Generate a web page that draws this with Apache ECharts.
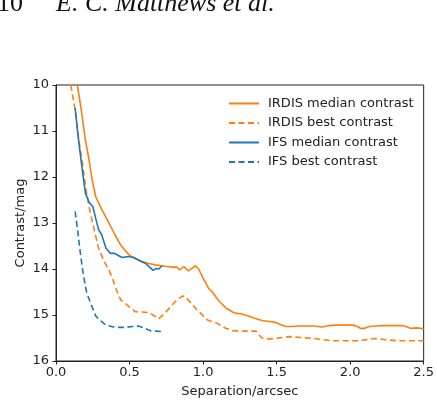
<!DOCTYPE html>
<html>
<head>
<meta charset="utf-8">
<script src="https://cdn.jsdelivr.net/npm/echarts@6/dist/echarts.min.js"></script>
<style>
    html, body { margin: 0; padding: 0; background: #fff; }
    #main { width: 437px; height: 404px; }
</style>
</head>
<body>
<div id="main"></div>
<script>
// separation (arcsec) / contrast (mag)
var irdisMedianSep = [0.145, 0.17, 0.20, 0.225, 0.245, 0.27, 0.31, 0.36, 0.40, 0.44, 0.47, 0.50, 0.54, 0.585, 0.63, 0.675, 0.74, 0.79, 0.82, 0.84, 0.87, 0.90, 0.95, 0.97, 1.00, 1.04, 1.06, 1.09, 1.11, 1.16, 1.21, 1.26, 1.30, 1.34, 1.40, 1.45, 1.49, 1.53, 1.56, 1.60, 1.65, 1.70, 1.75, 1.81, 1.86, 1.90, 1.96, 2.02, 2.05, 2.07, 2.10, 2.13, 2.18, 2.23, 2.29, 2.35, 2.38, 2.41, 2.45, 2.50];
var irdisMedianMag = [10.0, 10.5, 11.2, 11.63, 12.05, 12.43, 12.7, 13.0, 13.25, 13.48, 13.6, 13.70, 13.78, 13.84, 13.88, 13.91, 13.94, 13.96, 13.96, 14.02, 13.95, 14.04, 13.93, 14.0, 14.2, 14.43, 14.49, 14.62, 14.7, 14.86, 14.95, 14.98, 15.01, 15.06, 15.12, 15.14, 15.16, 15.21, 15.25, 15.25, 15.24, 15.24, 15.24, 15.26, 15.23, 15.22, 15.22, 15.22, 15.25, 15.29, 15.29, 15.25, 15.24, 15.23, 15.23, 15.23, 15.25, 15.29, 15.28, 15.30];

var irdisBestSep = [0.10, 0.12, 0.135, 0.155, 0.18, 0.20, 0.225, 0.26, 0.29, 0.33, 0.36, 0.38, 0.41, 0.44, 0.49, 0.54, 0.61, 0.65, 0.70, 0.74, 0.81, 0.86, 0.88, 0.95, 1.03, 1.09, 1.15, 1.20, 1.28, 1.36, 1.40, 1.45, 1.49, 1.58, 1.66, 1.76, 1.87, 1.96, 2.05, 2.10, 2.17, 2.25, 2.32, 2.40, 2.50];
var irdisBestMag = [10.0, 10.35, 10.65, 11.2, 11.7, 12.2, 12.65, 13.15, 13.55, 13.85, 14.02, 14.17, 14.45, 14.67, 14.8, 14.93, 14.94, 14.98, 15.08, 14.96, 14.71, 14.59, 14.6, 14.86, 15.11, 15.17, 15.28, 15.34, 15.35, 15.35, 15.5, 15.52, 15.51, 15.47, 15.49, 15.51, 15.56, 15.56, 15.56, 15.54, 15.51, 15.54, 15.56, 15.56, 15.56];

var ifsMedianSep = [0.13, 0.15, 0.17, 0.185, 0.20, 0.225, 0.25, 0.27, 0.29, 0.31, 0.34, 0.37, 0.40, 0.42, 0.45, 0.49, 0.53, 0.57, 0.61, 0.64, 0.66, 0.68, 0.70, 0.72];
var ifsMedianMag = [10.5, 11.1, 11.63, 12.0, 12.35, 12.55, 12.64, 12.9, 13.15, 13.25, 13.55, 13.66, 13.66, 13.70, 13.75, 13.73, 13.75, 13.82, 13.88, 13.97, 14.03, 13.99, 14.0, 13.93];

var ifsBestSep = [0.13, 0.145, 0.16, 0.18, 0.20, 0.21, 0.24, 0.27, 0.30, 0.34, 0.39, 0.43, 0.47, 0.52, 0.56, 0.60, 0.64, 0.68, 0.715];
var ifsBestMag = [12.75, 13.1, 13.51, 14.0, 14.38, 14.53, 14.78, 15.02, 15.12, 15.22, 15.26, 15.27, 15.27, 15.25, 15.24, 15.28, 15.34, 15.35, 15.36];

var seriesNames = ['IRDIS median contrast', 'IRDIS best contrast', 'IFS median contrast', 'IFS best contrast'];

var orange = '#ff7f0e';
var blue = '#1f77b4';

function pairs(xs, ys) {
    var out = [];
    for (var i = 0; i < xs.length; i++) {
        out.push([xs[i], ys[i]]);
    }
    return out;
}

function lineSeries(name, xs, ys, color, dashed) {
    return {
        name: name,
        type: 'line',
        data: pairs(xs, ys),
        showSymbol: false,
        symbol: 'none',
        smooth: false,
        lineStyle: {
            color: color,
            width: 1.6,
            type: dashed ? [6, 3.5] : 'solid'
        },
        itemStyle: { color: color }
    };
}

var tickFont = { color: '#222', fontSize: 13, fontFamily: 'DejaVu Sans' };

var myChart = echarts.init(document.getElementById('main'));
var option = {
    animation: false,
    backgroundColor: '#fff',
    graphic: [
        {
            type: 'text', left: -3, top: -9,
            style: { text: '10', font: '26px "Liberation Serif"', fill: '#111' }
        },
        {
            type: 'text', left: 56, top: -9,
            style: { text: 'E. C. Matthews et al.', font: 'italic 26px "Liberation Serif"', fill: '#111' }
        }
    ],
    grid: {
        left: 56,
        right: 11,
        top: 85,
        bottom: 43,
        show: true,
        borderColor: '#222',
        borderWidth: 1,
        backgroundColor: 'transparent'
    },
    legend: {
        orient: 'vertical',
        left: 223,
        top: 92,
        itemWidth: 30,
        itemHeight: 14,
        itemGap: 6.5,
        itemStyle: { opacity: 0 },
        textStyle: { color: '#222', fontSize: 13, fontFamily: 'DejaVu Sans', padding: [0, 0, 0, 4] },
        data: seriesNames
    },
    xAxis: {
        type: 'value',
        min: 0,
        max: 2.5,
        interval: 0.5,
        name: 'Separation/arcsec',
        nameLocation: 'middle',
        nameGap: 24,
        nameMoveOverlap: false,
        nameTextStyle: tickFont,
        axisLine: { lineStyle: { color: '#222', width: 1 } },
        axisTick: { length: 3.5, lineStyle: { color: '#222' } },
        axisLabel: Object.assign({ margin: 5, formatter: function (v) { return v.toFixed(1); } }, tickFont),
        splitLine: { show: false }
    },
    yAxis: {
        type: 'value',
        inverse: true,
        min: 10,
        max: 16,
        interval: 1,
        name: 'Contrast/mag',
        nameLocation: 'middle',
        nameGap: 29,
        nameMoveOverlap: false,
        nameTextStyle: tickFont,
        axisLine: { show: true, lineStyle: { color: '#222', width: 1 } },
        axisTick: { show: true, length: 3.5, lineStyle: { color: '#222' } },
        axisLabel: Object.assign({ margin: 7 }, tickFont),
        splitLine: { show: false }
    },
    series: [
        lineSeries(seriesNames[0], irdisMedianSep, irdisMedianMag, orange, false),
        lineSeries(seriesNames[1], irdisBestSep, irdisBestMag, orange, true),
        lineSeries(seriesNames[2], ifsMedianSep, ifsMedianMag, blue, false),
        lineSeries(seriesNames[3], ifsBestSep, ifsBestMag, blue, true)
    ]
};
myChart.setOption(option);
</script>
</body>
</html>
